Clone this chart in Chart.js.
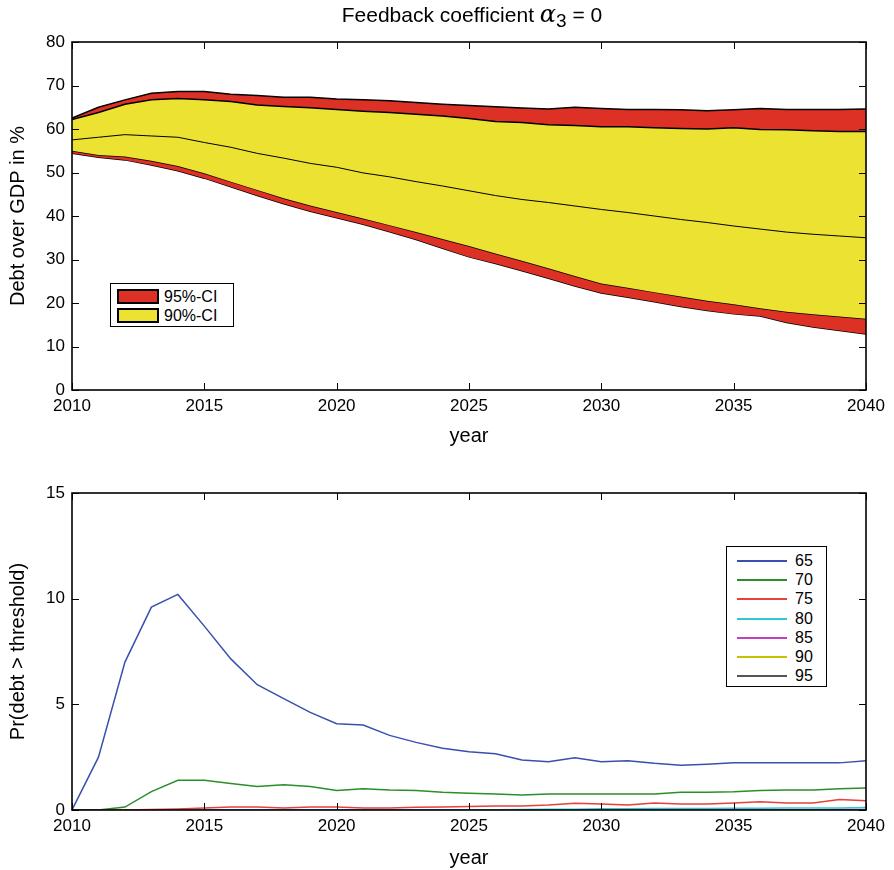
<!DOCTYPE html>
<html>
<head>
<meta charset="utf-8">
<script src="https://cdn.jsdelivr.net/npm/chart.js@4.4.1/dist/chart.umd.min.js"></script>
<style>
    body { margin: 0; background: #fff; font-family: "Liberation Sans", Arial, sans-serif; }
    #wrap { position: relative; width: 894px; height: 870px; }
    .pane { position: absolute; left: 0; }
    #title { position: absolute; left: 75px; width: 794px; top: 2px; text-align: center; font-size: 21px; line-height: 24px; color: #000; white-space: nowrap; }
    #title .greek { font-family: "DejaVu Serif", "Liberation Serif", serif; font-style: italic; font-size: 24px; }
    #title sub { font-size: 19px; position: relative; top: 5px; vertical-align: baseline; }
    .legend { position: absolute; background: #fff; border: 1.5px solid #000; box-sizing: border-box; font-size: 16px; color: #000; }
    .row { position: absolute; left: 0; right: 0; display: flex; align-items: center; }
    .swatch { box-sizing: border-box; border: 2px solid #000; }
</style>
</head>
<body>
<div id="wrap">
    <div class="pane" style="top:0"><canvas id="debtChart" width="894" height="450"></canvas></div>
    <div class="pane" style="top:450px"><canvas id="probChart" width="894" height="420"></canvas></div>
    <div id="title">Feedback coefficient <span class="greek">α</span><sub>3</sub> = 0</div>
    <div id="ciLegend" class="legend" style="left:110px; top:283px; width:124px; height:44px"></div>
    <div id="thLegend" class="legend" style="left:726px; top:546px; width:101px; height:141px"></div>
</div>
<script>
// years on the x axis
const years = [2010, 2011, 2012, 2013, 2014, 2015, 2016, 2017, 2018, 2019, 2020,
    2021, 2022, 2023, 2024, 2025, 2026, 2027, 2028, 2029, 2030,
    2031, 2032, 2033, 2034, 2035, 2036, 2037, 2038, 2039, 2040];

// debt over GDP in % (top panel)
const upper95 = [62.5, 65.0, 66.7, 68.2, 68.6, 68.6, 68.0, 67.7, 67.3, 67.3, 66.9,
    66.7, 66.5, 66.1, 65.7, 65.4, 65.1, 64.8, 64.6, 65.0, 64.7,
    64.5, 64.5, 64.4, 64.2, 64.4, 64.7, 64.5, 64.5, 64.5, 64.6];
const upper90 = [62.2, 63.8, 65.7, 66.7, 67.0, 66.7, 66.3, 65.5, 65.2, 64.9, 64.5,
    64.1, 63.8, 63.4, 63.0, 62.4, 61.7, 61.5, 61.0, 60.8, 60.5,
    60.5, 60.3, 60.1, 60.0, 60.3, 59.9, 59.8, 59.6, 59.4, 59.4];
const median = [57.5, 58.1, 58.7, 58.4, 58.1, 56.9, 55.8, 54.4, 53.3, 52.1, 51.2,
    49.9, 49.0, 47.9, 46.9, 45.8, 44.7, 43.8, 43.1, 42.3, 41.5,
    40.8, 40.0, 39.2, 38.5, 37.7, 37.0, 36.3, 35.8, 35.4, 35.0];
const lower90 = [55.0, 54.0, 53.7, 52.7, 51.5, 49.8, 47.9, 46.0, 44.1, 42.4, 40.9,
    39.4, 37.9, 36.3, 34.7, 33.1, 31.4, 29.7, 28.0, 26.2, 24.5,
    23.5, 22.5, 21.5, 20.5, 19.7, 18.8, 18.0, 17.4, 16.9, 16.4];
const lower95 = [54.4, 53.5, 52.9, 51.7, 50.4, 48.7, 46.7, 44.7, 42.8, 41.1, 39.6,
    38.1, 36.4, 34.6, 32.6, 30.6, 29.1, 27.4, 25.7, 23.9, 22.3,
    21.3, 20.3, 19.2, 18.3, 17.5, 17.0, 15.5, 14.5, 13.7, 12.9];

// Pr(debt > threshold) in % (bottom panel)
const thresholds = ["65", "70", "75", "80", "85", "90", "95"];
const p65 = [0, 2.5, 7.0, 9.6, 10.2, 8.7, 7.15, 5.93, 5.27, 4.62, 4.08,
    4.02, 3.53, 3.2, 2.92, 2.76, 2.66, 2.37, 2.28, 2.47, 2.28,
    2.33, 2.21, 2.12, 2.17, 2.23, 2.23, 2.23, 2.23, 2.23, 2.33];
const p70 = [0, 0, 0.14, 0.87, 1.41, 1.41, 1.25, 1.11, 1.2, 1.11, 0.92,
    1.01, 0.95, 0.92, 0.84, 0.79, 0.76, 0.71, 0.76, 0.76, 0.76,
    0.76, 0.76, 0.84, 0.84, 0.86, 0.92, 0.95, 0.95, 1.0, 1.04];
const p75 = [0, 0, 0, 0.02, 0.05, 0.1, 0.14, 0.14, 0.1, 0.14, 0.14,
    0.1, 0.1, 0.13, 0.14, 0.16, 0.19, 0.19, 0.24, 0.32, 0.28,
    0.24, 0.33, 0.28, 0.28, 0.33, 0.39, 0.33, 0.33, 0.5, 0.44];
const p80 = [0, 0, 0, 0, 0, 0, 0, 0, 0, 0, 0,
    0, 0, 0, 0, 0.01, 0.01, 0.02, 0.03, 0.04, 0.06,
    0.06, 0.07, 0.07, 0.07, 0.08, 0.08, 0.09, 0.09, 0.1, 0.12];
const p85 = [0, 0, 0, 0, 0, 0, 0, 0, 0, 0, 0,
    0, 0, 0, 0, 0, 0, 0, 0, 0, 0,
    0, 0, 0, 0, 0.01, 0.01, 0.01, 0.01, 0.02, 0.02];
const p90 = [0, 0, 0, 0, 0, 0, 0, 0, 0, 0, 0,
    0, 0, 0, 0, 0, 0, 0, 0, 0, 0,
    0, 0, 0, 0, 0, 0, 0, 0, 0, 0];
const p95 = [0, 0, 0, 0, 0, 0, 0, 0, 0, 0, 0,
    0, 0, 0, 0, 0, 0, 0, 0, 0, 0,
    0, 0, 0, 0, 0, 0, 0, 0, 0, 0];

const RED = "#de3125";
const YELLOW = "#ebe232";
const lineColors = ["#3a4fae", "#2a8f2a", "#e8403a", "#30c8d0", "#c040c0", "#c8c000", "#555555"];
const FONT = "'Liberation Sans', Arial, sans-serif";

Chart.defaults.font.family = FONT;
Chart.defaults.color = "#000";

function pts(vals) {
    return vals.map((v, i) => ({ x: years[i], y: v }));
}

// box around the plot with ticks pointing inward (matlab style)
const boxTicks = {
    id: "boxTicks",
    afterDatasetsDraw(chart) {
        const { ctx, chartArea: a, scales: { x, y } } = chart;
        const len = 7;
        ctx.save();
        ctx.strokeStyle = "#000";
        ctx.lineWidth = 1;
        ctx.beginPath();
        x.ticks.forEach(t => {
            const px = Math.round(x.getPixelForValue(t.value)) + 0.5;
            ctx.moveTo(px, a.bottom); ctx.lineTo(px, a.bottom - len);
            ctx.moveTo(px, a.top); ctx.lineTo(px, a.top + len);
        });
        y.ticks.forEach(t => {
            const py = Math.round(y.getPixelForValue(t.value)) + 0.5;
            ctx.moveTo(a.left, py); ctx.lineTo(a.left + len, py);
            ctx.moveTo(a.right, py); ctx.lineTo(a.right - len, py);
        });
        ctx.stroke();
        ctx.lineWidth = 1.6;
        ctx.strokeRect(a.left, a.top, a.right - a.left, a.bottom - a.top);
        ctx.restore();
    }
};

function xScale(titlePad) {
    return {
        type: "linear", min: 2010, max: 2040,
        ticks: { stepSize: 5, padding: 6, font: { size: 17 }, callback: v => String(v) },
        grid: { display: false, drawTicks: false },
        border: { display: false },
        title: { display: true, text: "year", font: { size: 20 }, padding: { top: 0, bottom: titlePad } },
        afterFit: s => { s.height = 60; }
    };
}

function yScale(max, step, label) {
    return {
        min: 0, max: max,
        ticks: { stepSize: step, padding: 7, font: { size: 17 } },
        grid: { display: false, drawTicks: false },
        border: { display: false },
        title: { display: true, text: label, font: { size: 20 }, padding: { top: 6, bottom: 0 } },
        afterFit: s => { s.width = 72; }
    };
}

// top panel: confidence bands
const bandLine = { borderColor: "#000", borderWidth: 1.5, pointRadius: 0, tension: 0 };
new Chart(document.getElementById("debtChart"), {
    type: "line",
    data: {
        datasets: [
            { label: "median", data: pts(median), borderColor: "#000", borderWidth: 1, pointRadius: 0, fill: false },
            { ...bandLine, label: "90%-CI", data: pts(upper90), backgroundColor: YELLOW, fill: 2 },
            { ...bandLine, label: "90% lower", data: pts(lower90), fill: false },
            { ...bandLine, label: "95%-CI", data: pts(upper95), backgroundColor: RED, fill: 4 },
            { ...bandLine, label: "95% lower", data: pts(lower95), fill: false },
        ],
    },
    options: {
        responsive: false,
        animation: false,
        layout: { padding: { top: 42, right: 28 } },
        plugins: {
            legend: { display: false },
            tooltip: { enabled: false },
        },
        scales: {
            x: xScale(2),
            y: yScale(80, 10, "Debt over GDP in %"),
        },
    },
    plugins: [boxTicks],
});

// bottom panel: exceedance probabilities
const probSeries = [p65, p70, p75, p80, p85, p90, p95];
new Chart(document.getElementById("probChart"), {
    type: "line",
    data: {
        datasets: probSeries.map((vals, i) => ({
            label: thresholds[i],
            data: pts(vals),
            borderColor: lineColors[i],
            borderWidth: 1.5,
            pointRadius: 0,
            fill: false,
        })),
    },
    options: {
        responsive: false,
        animation: false,
        layout: { padding: { top: 43, right: 28 } },
        plugins: { legend: { display: false }, tooltip: { enabled: false } },
        scales: {
            x: xScale(0),
            y: yScale(15, 5, "Pr(debt > threshold)"),
        },
    },
    plugins: [boxTicks],
});

// legends (html, built from the same labels and colours)
const ciLegend = document.getElementById("ciLegend");
[["95%-CI", RED], ["90%-CI", YELLOW]].forEach(([name, col], i) => {
    const row = document.createElement("div");
    row.className = "row";
    row.style.top = (3 + i * 19) + "px";
    row.style.height = "19px";
    row.innerHTML = '<div class="swatch" style="margin-left:6px;width:42px;height:15px;background:' + col + '"></div>' +
        '<span style="margin-left:5px">' + name + "</span>";
    ciLegend.appendChild(row);
});

const thLegend = document.getElementById("thLegend");
thresholds.forEach((name, i) => {
    const row = document.createElement("div");
    row.className = "row";
    row.style.top = (4.4 + i * 19.2) + "px";
    row.style.height = "19.2px";
    row.innerHTML = '<div style="margin-left:10px;width:50px;height:2px;background:' + lineColors[i] + '"></div>' +
        '<span style="margin-left:8px">' + name + "</span>";
    thLegend.appendChild(row);
});
</script>
</body>
</html>
